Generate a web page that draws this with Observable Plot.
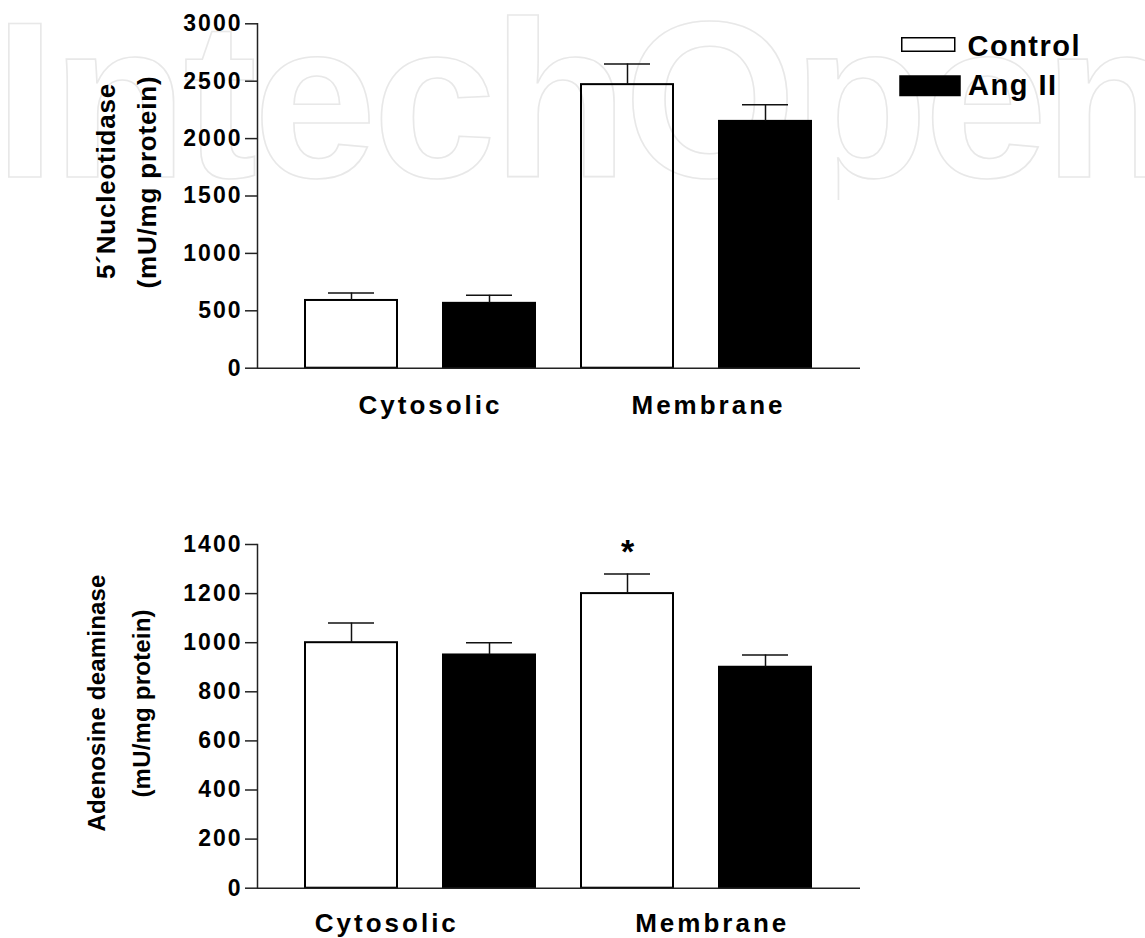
<!DOCTYPE html>
<html>
<head>
<meta charset="utf-8">
<script src="https://cdn.jsdelivr.net/npm/d3@7"></script>
<script src="https://cdn.jsdelivr.net/npm/@observablehq/plot@0.6"></script>
<style>
  html, body { margin: 0; padding: 0; background: white; }
  #wrap { position: relative; width: 1145px; height: 938px; overflow: hidden; font-family: "Liberation Sans", Arial, sans-serif; }
  #wm { position: absolute; left: 0; top: 0; z-index: 0; }
  #charts { position: relative; z-index: 1; }
  #charts svg { display: block; }
  #legend { position: absolute; left: 0; top: 0; z-index: 2; pointer-events: none; }
  g[aria-label="y-axis tick label"] text { letter-spacing: 2px; }
  #legend text { letter-spacing: 1.5px; }
</style>
</head>
<body>
<div id="wrap">
  <svg id="wm" width="1145" height="200">
    <text x="-6" y="177" font-family="Liberation Sans, Arial, sans-serif" font-size="222" font-weight="bold" letter-spacing="-4"
          fill="none" stroke="#e8e8e8" stroke-width="1.6">IntechOpen</text>
  </svg>
  <div id="charts"></div>
  <svg id="legend" width="1145" height="110"></svg>
</div>
<script>
// ---- data ----
const fractions = ["Cytosolic", "Membrane"];
const treatments = ["Control", "Ang II"];
// order: Cytosolic Control, Cytosolic Ang II, Membrane Control, Membrane Ang II
const nucleotidaseMean = [590, 565, 2470, 2150];
const nucleotidaseSem = [65, 70, 180, 145];
const deaminaseMean = [1000, 950, 1200, 900];
const deaminaseSem = [80, 50, 80, 50];
const deaminaseSignificant = [false, false, true, false];
const nucleotidaseTicks = [0, 500, 1000, 1500, 2000, 2500, 3000];
const deaminaseTicks = [0, 200, 400, 600, 800, 1000, 1200, 1400];
const nucleotidaseTitle = ["5´Nucleotidase", "(mU/mg protein)"];
const deaminaseTitle = ["Adenosine deaminase", "(mU/mg protein)"];

const FONT = "Liberation Sans, Arial, sans-serif";
const keys = fractions.flatMap(f => treatments.map(t => `${f} ${t}`));

function makeRows(mean, sem, sig) {
  return fractions.flatMap((f, i) => treatments.map((t, j) => {
    const k = i * treatments.length + j;
    return {fraction: f, treatment: t, key: `${f} ${t}`, mean: mean[k], upper: mean[k] + sem[k], sig: sig ? sig[k] : false};
  }));
}

function panel({rows, ticks, height, marginTop, marginBottom, title, titleSize, titleSpacing, titleDx, titleDy, labelDx, labelDy}) {
  const marks = [
    Plot.barY(rows, {x: "key", y: "mean", fill: "treatment", stroke: "black", strokeWidth: 2}),
    Plot.ruleX(rows, {x: "key", y1: "mean", y2: "upper", stroke: "#111", strokeWidth: 1.5}),
    Plot.tickY(rows, {x: "key", y: "upper", insetLeft: 23, insetRight: 23, stroke: "#111", strokeWidth: 1.5}),
    Plot.ruleY([0], {stroke: "#222", strokeWidth: 1.5}),
    Plot.frame({anchor: "left", stroke: "#222", strokeWidth: 1.5}),
    Plot.axisY({ticks, tickSize: 12, tickPadding: 3, tickFormat: d3.format("d"), label: null,
      fontSize: 23, fontWeight: "bold", fontFamily: FONT, strokeWidth: 1.5, stroke: "#222", fill: "black"}),
    ...fractions.map((f, i) => Plot.text([f], {
      x: d => `${d} ${treatments[0]}`, text: d => d, frameAnchor: "bottom", lineAnchor: "bottom",
      textAnchor: "middle", dy: labelDy, dx: labelDx[i], fontSize: 26, fontWeight: "bold", fontFamily: FONT, fill: "black"
    })),
    ...title.map((line, i) => Plot.text([line], {
      text: d => d, frameAnchor: "left", rotate: -90, lineAnchor: "middle", textAnchor: "middle",
      dx: titleDx[i], dy: titleDy[i], fontSize: titleSize, fontWeight: "bold", fontFamily: FONT, fill: "black"
    })),
    Plot.text(rows.filter(r => r.sig), {
      x: "key", y: "upper", text: () => "*", lineAnchor: "bottom", dy: -11,
      fontSize: 34, fontWeight: "bold", fontFamily: FONT, fill: "black"
    })
  ];
  const svg = Plot.plot({
    width: 1145, height, marginLeft: 257, marginRight: 285, marginTop, marginBottom,
    style: {background: "transparent", overflow: "visible", fontFamily: FONT},
    x: {type: "band", domain: keys, paddingInner: 0.331, paddingOuter: 0.335, axis: null},
    y: {domain: [ticks[0], ticks[ticks.length - 1]], axis: null},
    color: {domain: treatments, range: ["none", "black"]},
    marks
  });
  // letter-spacing to match the reference's wide bold lettering
  d3.select(svg).selectAll("text").each(function () {
    const t = this.textContent;
    if (fractions.includes(t)) this.setAttribute("letter-spacing", 3);
    else if (title.includes(t)) this.setAttribute("letter-spacing", titleSpacing);
  });
  return svg;
}

const charts = document.getElementById("charts");
charts.appendChild(panel({
  rows: makeRows(nucleotidaseMean, nucleotidaseSem),
  ticks: nucleotidaseTicks, height: 470, marginTop: 23.3, marginBottom: 102.3,
  title: nucleotidaseTitle, titleSize: 26, titleSpacing: 0.8,
  titleDx: [-151, -110], titleDy: [-15, -14], labelDx: [79, 81], labelDy: 45.5
}));
charts.appendChild(panel({
  rows: makeRows(deaminaseMean, deaminaseSem, deaminaseSignificant),
  ticks: deaminaseTicks, height: 468, marginTop: 74, marginBottom: 50.3,
  title: deaminaseTitle, titleSize: 24, titleSpacing: 0.2,
  titleDx: [-160.3, -115.3], titleDy: [-13.4, -12.9], labelDx: [35.3, 84.7], labelDy: 44
}));

// ---- legend ----
const lg = d3.select("#legend");
const legendItems = [
  {label: treatments[0], fill: "white", rect: [901.75, 37.75, 53, 13.5], tx: 967.5, ty: 56},
  {label: treatments[1], fill: "black", rect: [900, 76, 60, 19.5], tx: 968, ty: 94.5}
];
for (const it of legendItems) {
  lg.append("rect").attr("x", it.rect[0]).attr("y", it.rect[1]).attr("width", it.rect[2]).attr("height", it.rect[3])
    .attr("fill", it.fill).attr("stroke", "black").attr("stroke-width", 1.5);
  lg.append("text").attr("x", it.tx).attr("y", it.ty).attr("font-family", FONT).attr("font-size", 29)
    .attr("font-weight", "bold").attr("fill", "black").text(it.label);
}
</script>
</body>
</html>
